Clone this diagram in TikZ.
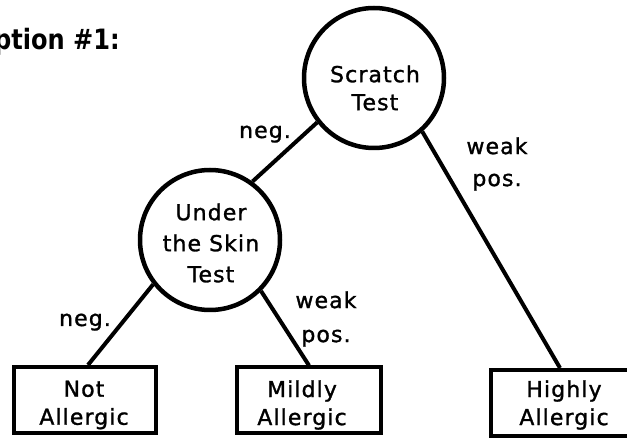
\documentclass[tikz,border=0pt]{standalone}
\usepackage{fontspec}
\setmainfont{DejaVu Sans}
\newfontfamily\gen[LetterSpace=5,FakeBold=1.3]{DejaVu Sans}
\begin{document}
\begin{tikzpicture}[x=1pt,y=-1pt,
  circ/.style={circle, draw, minimum size=140pt, inner sep=0pt, line width=4.5pt},
  box/.style={rectangle, draw, minimum width=142pt, minimum height=66pt, inner sep=0pt, line width=4pt},
  txt/.style={font=\gen\fontsize{22}{28}\selectfont, align=center, inner sep=0pt},
  lbl/.style={font=\gen\fontsize{22}{32}\selectfont, align=center, inner sep=0pt},
  conn/.style={line width=4pt},
  title/.style={font=\bfseries\fontsize{28}{32}\selectfont, inner sep=0pt}]
\useasboundingbox (0,0) rectangle (627,438);
\fill[white] (0,0) rectangle (627,438);

\node[title, anchor=base east] (head) at (120,50) {\scalebox{0.86}[1]{Option \#1:}};

% decision nodes
\node[circ] (scratch) at (374,78) {};
\node[txt] (scratchlbl) at (375,88) {Scratch\\Test};
\node[circ] (under) at (210,240) {};
\node[txt, font=\gen\fontsize{22}{31}\selectfont] (underlbl) at (211,243) {Under\\the Skin\\Test};

% outcome boxes
\node[box] (notal) at (85,400) {};
\node[txt] (notlbl) at (84,405) {Not\\Allergic};
\node[box, minimum width=144pt] (mild) at (309,400.5) {};
\node[txt] (mildlbl) at (302,405) {Mildly\\Allergic};
\node[box, minimum width=144pt] (high) at (563,403) {};
\node[txt] (highlbl) at (564,405) {Highly\\Allergic};

% connectors
\draw[conn] (scratch.218) -- (under.54);
\draw[conn] (scratch.-48) -- ([xshift=-3pt]high.north);
\draw[conn] (under.-142) -- ([xshift=3pt]notal.north);
\draw[conn] (under.-45) -- (mild.north);

% edge labels
\node[lbl, anchor=base] (neg1) at (265,138) {neg.};
\node[lbl] (weak1) at (497,164) {weak\\pos.};
\node[lbl, anchor=base] (neg2) at (85,326) {neg.};
\node[lbl, font=\gen\fontsize{22}{34}\selectfont] (weak2) at (326,319) {weak\\pos.};
\end{tikzpicture}
\end{document}
